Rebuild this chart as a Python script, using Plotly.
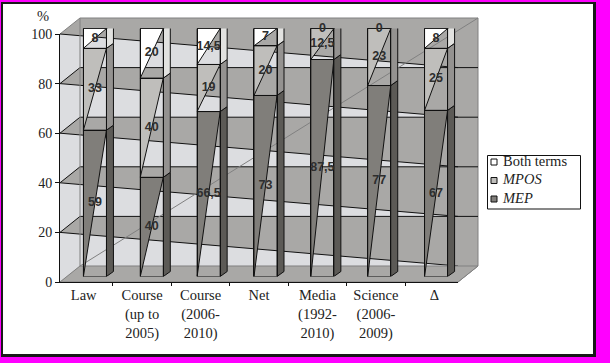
import plotly.graph_objects as go

categories = ["Law", "Course<br>(up to<br>2005)", "Course<br>(2006-<br>2010)", "Net",
              "Media<br>(1992-<br>2010)", "Science<br>(2006-<br>2009)", "Δ"]
mep = [59, 40, 66.5, 73, 87.5, 77, 67]
mpos = [33, 40, 19, 20, 12.5, 23, 25]
both = [8, 20, 14.5, 7, 0, 0, 8]
mep_text = ["59", "40", "66,5", "73", "87,5", "77", "67"]
mpos_text = ["33", "40", "19", "20", "12,5", "23", "25"]
both_text = ["8", "20", "14,5", "7", "0", "0", "8"]
y_ticks = [0, 20, 40, 60, 80, 100]

W, H = 610, 363
FX0, FX1, FY0, FY1 = 60, 458, 282, 34      # front plane of the box, pixels
WDX, WDY = 20, 16                          # box depth
BDX, BDY = 6.5, 5.5                        # plane the bars stand on
BAR_W = 0.405
SX, SY = 7 * 7 / (FX1 - FX0), 5 * 100 / (FY0 - FY1)  # bar depth in data units
WALL, LIGHT, EDGE = "#a9a8a6", "#dcdde0", "#808080"
STACK = [("MEP", mep, mep_text, "#807e7a", "#5c5a56", "#6e6c68"),
         ("MPOS", mpos, mpos_text, "#bfbebb", "#949290", "#c6c5c2"),
         ("Both terms", both, both_text, "#ffffff", "#e2e2e0", "#e2e2e0")]


def fx(p):
    return p / W


def fy(p):
    return 1 - p / H


def poly(points, fill, line=None, width=1, layer="below"):
    d = "M" + " L".join(f"{fx(a):.5f},{fy(b):.5f}" for a, b in points) + " Z"
    return dict(type="path", xref="paper", yref="paper", path=d, fillcolor=fill, layer=layer,
                line=dict(color=line or "rgba(0,0,0,0)", width=width))


def level(v):
    return FY0 - (FY0 - FY1) * v / 100


def frame(x0, y0, x1, y1, color):
    return dict(type="rect", xref="paper", yref="paper", x0=fx(x0), x1=fx(x1), y0=fy(y1), y1=fy(y0),
                fillcolor=color, line=dict(width=0), layer="below")


shapes = [
    frame(1, 2, 596, 357, "#1a1a1a"),
    frame(3, 4, 593, 354, "white"),
    poly([(FX0, FY1), (FX0 + WDX, FY1 - WDY), (FX1 + WDX, FY1 - WDY), (FX1 + WDX, FY0 - WDY),
          (FX1, FY0), (FX0, FY0)], WALL, EDGE),
]
for hi, lo in zip(y_ticks[:0:-1], y_ticks[-2::-1]):
    top, bottom = level(hi), level(lo)
    shapes.append(poly([(FX0, top), (FX1, bottom - WDY), (FX0 + WDX, bottom - WDY), (FX0, bottom)], LIGHT))
    shapes.append(dict(type="line", xref="paper", yref="paper", x0=fx(FX0), y0=fy(top), x1=fx(FX1), y1=fy(bottom - WDY),
                       line=dict(color="#111111", width=1), layer="below"))
    if lo > 0:
        shapes.append(dict(type="line", xref="paper", yref="paper", x0=fx(FX0 + WDX), y0=fy(bottom - WDY), x1=fx(FX1 + WDX),
                           y1=fy(bottom - WDY), line=dict(color="#111111", width=1), layer="below"))
        shapes.append(dict(type="line", xref="paper", yref="paper", x0=fx(FX0), y0=fy(bottom), x1=fx(FX0 + WDX),
                           y1=fy(bottom - WDY), line=dict(color="#111111", width=1), layer="below"))
shapes += [
    poly([(FX0, FY0), (FX1, FY0), (FX1 + WDX, FY0 - WDY), (FX0 + WDX, FY0 - WDY)], WALL, EDGE),
    dict(type="line", xref="paper", yref="paper", x0=fx(FX0 + WDX), y0=fy(FY0 - WDY), x1=fx(FX0 + WDX), y1=fy(FY1 - WDY),
         line=dict(color=EDGE, width=1), layer="below"),
    dict(type="line", xref="paper", yref="paper", x0=fx(FX0 + WDX), y0=fy(FY0 - WDY), x1=fx(FX1 + WDX), y1=fy(FY1 - WDY),
         line=dict(color=EDGE, width=1), layer="below"),
    dict(type="rect", xref="paper", yref="paper", x0=fx(487.5), x1=fx(580.5), y0=fy(209), y1=fy(155.5),
         fillcolor="white", line=dict(color="#111111", width=1), layer="below"),
]

fig = go.Figure()

# keeps the category axis populated
fig.add_trace(go.Scatter(x=categories, y=[None] * 7, mode="markers", showlegend=False, xaxis="x", yaxis="y"))

# bar solids drawn through the bar-plane axes
base = [0] * 7
for name, values, _, color, side, top in STACK:
    for i, v in enumerate(values):
        lo, hi = base[i], base[i] + v
        xl, xr = i - BAR_W / 2, i + BAR_W / 2
        if v > 0:
            fig.add_trace(go.Scatter(x=[xl, xl, xr, xl], y=[lo, hi, hi, lo], mode="lines", fill="toself",
                                     fillcolor=color, line=dict(color="#111111", width=1), showlegend=False,
                                     xaxis="x2", yaxis="y2", cliponaxis=False, hoverinfo="skip"))
            fig.add_trace(go.Scatter(x=[xr, xr + SX, xr + SX, xr, xr], y=[lo, lo + SY, hi + SY, hi, lo], mode="lines",
                                     fill="toself", fillcolor=side, line=dict(color="#111111", width=1), showlegend=False,
                                     xaxis="x2", yaxis="y2", cliponaxis=False, hoverinfo="skip"))
        if hi >= 100 and v > 0:
            fig.add_trace(go.Scatter(x=[xl, xl + SX, xr + SX, xr, xl], y=[hi, hi + SY, hi + SY, hi, hi], mode="lines",
                                     fill="toself", fillcolor=top, line=dict(color="#111111", width=1), showlegend=False,
                                     xaxis="x2", yaxis="y2", cliponaxis=False, hoverinfo="skip"))
        base[i] = hi

# outlined stacked bars and their value labels
base = [0] * 7
for name, values, text, *_ in STACK:
    fig.add_trace(go.Bar(x=list(range(7)), y=values, width=BAR_W, name=name, showlegend=False, xaxis="x3", yaxis="y3",
                         marker=dict(color="rgba(0,0,0,0)", line=dict(color="#111111", width=1)), cliponaxis=False))
    mid = [b + v / 2 for b, v in zip(base, values)]
    fig.add_trace(go.Scatter(x=list(range(7)), y=mid, text=text, mode="text", showlegend=False, xaxis="x3", yaxis="y3",
                             cliponaxis=False, hoverinfo="skip",
                             textfont=dict(family="Liberation Sans", size=12.5, color="#2e2e2e", weight="bold")))
    base = [b + v for b, v in zip(base, values)]

serif = dict(family="Liberation Serif", size=14, color="#222222")
label_font = dict(family="Liberation Serif", size=14.5, color="#222222")

# legend block: one row per series, top to bottom like the reference
for row, (name, _, _, color, _, _) in enumerate(STACK):
    label = name if name == "Both terms" else f"<i>{name}</i>"
    fig.add_trace(go.Scatter(x=[0], y=[row], mode="markers", showlegend=False, xaxis="x4", yaxis="y4", cliponaxis=False,
                             hoverinfo="skip",
                             marker=dict(symbol="square", size=6, color=color, line=dict(color="#111111", width=1))))
    fig.add_trace(go.Scatter(x=[9], y=[row], mode="text", text=[label], textposition="middle right",
                             textfont=label_font, showlegend=False, xaxis="x4", yaxis="y4", cliponaxis=False,
                             hoverinfo="skip"))

hidden = dict(visible=False, fixedrange=True, automargin=False)
bx = [fx(FX0 + BDX), fx(FX1 + BDX)]
by = [fy(FY0 - BDY), fy(FY1 - BDY)]
fig.update_layout(
    width=W, height=H, autosize=False, margin=dict(l=0, r=0, t=0, b=0),
    paper_bgcolor="#ff00ff", plot_bgcolor="rgba(0,0,0,0)", barmode="stack", bargap=0,
    font=serif, shapes=shapes, showlegend=False,
    xaxis=dict(domain=[fx(FX0), fx(FX1)], type="category", categoryorder="array", categoryarray=categories,
               anchor="y", showgrid=False, zeroline=False, showline=True, linecolor="#111111", ticks="outside",
               ticklen=3, tickcolor="#111111", tickson="boundaries", tickfont=label_font, tickangle=0, automargin=False),
    yaxis=dict(domain=[fy(FY0), fy(FY1)], range=[0, 100], anchor="x", tickvals=y_ticks, showgrid=False, zeroline=False,
               showline=True, linecolor="#111111", ticks="outside", ticklen=4, tickcolor="#111111", tickfont=serif,
               automargin=False),
    xaxis2=dict(domain=bx, range=[-0.5, 6.5], anchor="y2", **hidden),
    yaxis2=dict(domain=by, range=[0, 100], anchor="x2", **hidden),
    xaxis3=dict(domain=bx, range=[-0.5, 6.5], anchor="y3", **hidden),
    yaxis3=dict(domain=by, range=[0, 100], anchor="x3", **hidden),
    xaxis4=dict(domain=[fx(487), fx(581)], range=[-7, 87], anchor="y4", **hidden),
    yaxis4=dict(domain=[fy(209), fy(155)], range=[-0.54, 2.38], anchor="x4", **hidden),
    annotations=[dict(text="%", xref="paper", yref="paper", x=fx(43), y=fy(16), xanchor="center", yanchor="middle",
                      showarrow=False, font=label_font)],
)
fig.write_html("out.html", config=dict(displayModeBar=False),
               post_script="document.body.style.margin='0';document.body.style.background='#ff00ff';")
